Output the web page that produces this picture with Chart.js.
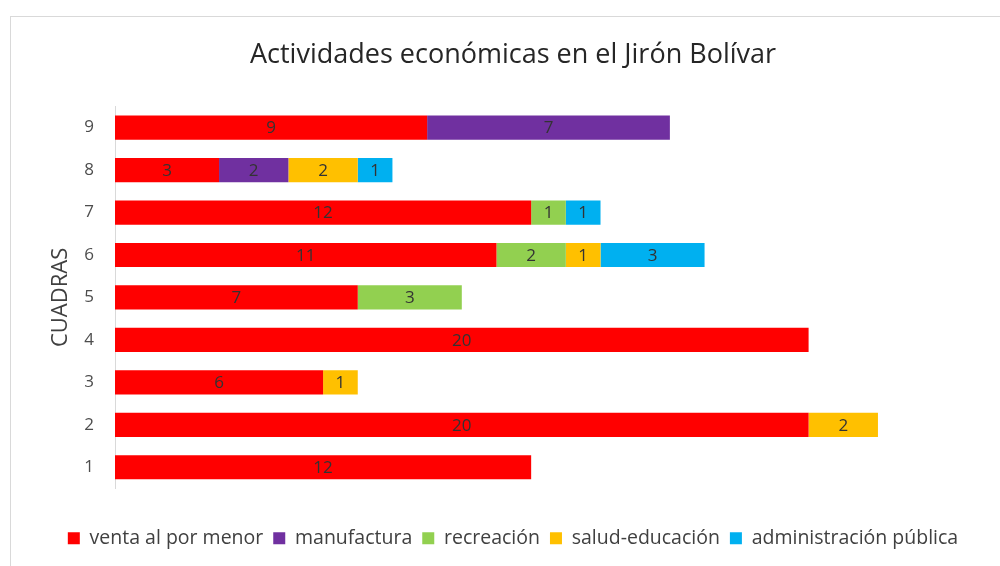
<!DOCTYPE html>
<html>
<head>
<meta charset="utf-8">
<script src="https://cdn.jsdelivr.net/npm/chart.js@4/dist/chart.umd.min.js"></script>
<style>
    html, body { margin: 0; padding: 0; background: #fff; overflow: hidden; }
    #frame { position: absolute; left: 10px; top: 16px; width: 1000px; height: 600px; border: 1px solid #d9d9d9; }
    #wrap { position: absolute; left: 0; top: 0; width: 1000px; height: 566px; }
</style>
</head>
<body>
<div id="frame"></div>
<div id="wrap"><canvas id="myChart"></canvas></div>
<script>
// cuadras 1..9 (1 drawn at the bottom)
const cuadras = ['1', '2', '3', '4', '5', '6', '7', '8', '9'];

const ventaMenor     = [12, 20, 6, 20, 7, 11, 12, 3, 9];
const manufactura    = [0, 0, 0, 0, 0, 0, 0, 2, 7];
const recreacion     = [0, 0, 0, 0, 3, 2, 1, 0, 0];
const saludEducacion = [0, 2, 1, 0, 0, 1, 0, 2, 0];
const adminPublica   = [0, 0, 0, 0, 0, 3, 1, 1, 0];

const FONT = "'Open Sans', 'Noto Sans', sans-serif";

// draws the value in the middle of each segment
const segmentLabels = {
    id: 'segmentLabels',
    afterDatasetsDraw(chart) {
        const ctx = chart.ctx;
        ctx.save();
        ctx.font = '17px ' + FONT;
        ctx.fillStyle = '#333333';
        ctx.textAlign = 'center';
        ctx.textBaseline = 'middle';
        chart.data.datasets.forEach((ds, i) => {
            const meta = chart.getDatasetMeta(i);
            meta.data.forEach((bar, j) => {
                const v = ds.data[j];
                if (!v) return;
                ctx.fillText(String(v), (bar.x + bar.base) / 2, bar.y + 1);
            });
        });
        ctx.restore();
    }
};

function makeSet(label, data, color) {
    return {
        label: label,
        data: data,
        backgroundColor: color,
        borderWidth: 0,
        categoryPercentage: 0.57,
        barPercentage: 1
    };
}

const ctx = document.getElementById('myChart').getContext('2d');
new Chart(ctx, {
    type: 'bar',
    data: {
        labels: cuadras,
        datasets: [
            makeSet('venta al por menor', ventaMenor, '#ff0000'),
            makeSet('manufactura', manufactura, '#7030a0'),
            makeSet('recreación', recreacion, '#92d050'),
            makeSet('salud-educación', saludEducacion, '#ffc000'),
            makeSet('administración pública', adminPublica, '#00b0f0')
        ]
    },
    plugins: [segmentLabels],
    options: {
        indexAxis: 'y',
        responsive: true,
        maintainAspectRatio: false,
        animation: false,
        layout: { padding: { left: 44, right: 18, top: 0, bottom: 8 } },
        scales: {
            x: {
                stacked: true,
                min: 0,
                max: 25,
                grid: { display: false },
                border: { display: false },
                ticks: { display: false },
                afterFit: scale => { scale.height = 30; }
            },
            y: {
                stacked: true,
                reverse: true,
                grid: { display: false },
                border: { display: true, color: '#d9d9d9', width: 1 },
                ticks: { color: '#4d4d4d', font: { size: 17, family: FONT }, padding: 13 },
                title: {
                    display: true,
                    text: 'CUADRAS',
                    color: '#404040',
                    font: { size: 22, family: FONT }
                },
                afterFit: scale => { scale.width = 71; }
            }
        },
        plugins: {
            title: {
                display: true,
                text: 'Actividades económicas en el Jirón Bolívar',
                color: '#262626',
                font: { size: 27, family: FONT, weight: 'normal' },
                padding: { top: 39, bottom: 35 }
            },
            legend: {
                position: 'bottom',
                labels: {
                    color: '#404040',
                    font: { size: 19.5, family: FONT },
                    boxWidth: 12,
                    boxHeight: 12,
                    padding: 10
                }
            },
            tooltip: { enabled: false }
        }
    }
});
</script>
</body>
</html>
